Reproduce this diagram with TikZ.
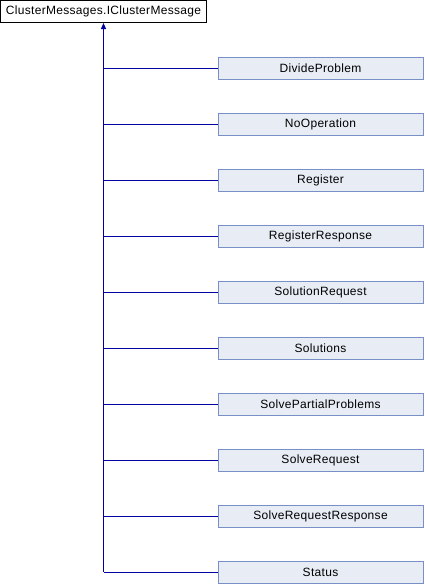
\documentclass[tikz,border=0pt]{standalone}
\usepackage{fontspec}
\setmainfont[LetterSpace=2.5]{Liberation Sans}
\usetikzlibrary{arrows.meta}
\definecolor{edgeblue}{RGB}{0,0,160}
\definecolor{boxfill}{RGB}{232,236,245}
\definecolor{boxline}{RGB}{121,144,198}

\begin{document}
\begin{tikzpicture}[x=1pt, y=-1pt,
   base/.style={draw=black, fill=white, line width=1pt, inner sep=0pt,
      minimum width=206pt, minimum height=22pt, font=\fontsize{12}{14}\selectfont},
   derived/.style={base, draw=boxline, fill=boxfill, minimum width=205pt},
   inherit/.style={draw=edgeblue, line width=1pt}]
   \useasboundingbox (0, 0) rectangle (424, 584);

   % interface
   \node [base] (iclustermessage) at (103.5, 11.5) {ClusterMessages.IClusterMessage};

   % derived classes
   \node [derived] (divideproblem) at (320.5, 68) {DivideProblem};
   \node [derived] (nooperation) at (320.5, 124) {NoOperation};
   \node [derived] (register) at (320.5, 180) {Register};
   \node [derived] (registerresponse) at (320.5, 236) {RegisterResponse};
   \node [derived] (solutionrequest) at (320.5, 292) {SolutionRequest};
   \node [derived] (solutions) at (320.5, 348) {Solutions};
   \node [derived] (solvepartialproblems) at (320.5, 404) {SolvePartialProblems};
   \node [derived] (solverequest) at (320.5, 460) {SolveRequest};
   \node [derived] (solverequestresponse) at (320.5, 516) {SolveRequestResponse};
   \node [derived] (status) at (320.5, 572) {Status};

   % trunk
   \coordinate (trunk) at (iclustermessage.south |- status.west);
   \draw [inherit, -{Triangle[length=6pt, width=5pt]}] (trunk) -- (iclustermessage.south);

   % branches
   \draw [inherit] (iclustermessage.south |- divideproblem.west) -- (divideproblem.west);
   \draw [inherit] (iclustermessage.south |- nooperation.west) -- (nooperation.west);
   \draw [inherit] (iclustermessage.south |- register.west) -- (register.west);
   \draw [inherit] (iclustermessage.south |- registerresponse.west) -- (registerresponse.west);
   \draw [inherit] (iclustermessage.south |- solutionrequest.west) -- (solutionrequest.west);
   \draw [inherit] (iclustermessage.south |- solutions.west) -- (solutions.west);
   \draw [inherit] (iclustermessage.south |- solvepartialproblems.west) -- (solvepartialproblems.west);
   \draw [inherit] (iclustermessage.south |- solverequest.west) -- (solverequest.west);
   \draw [inherit] (iclustermessage.south |- solverequestresponse.west) -- (solverequestresponse.west);
   \draw [inherit] (trunk) -- (status.west);

\end{tikzpicture}
\end{document}
